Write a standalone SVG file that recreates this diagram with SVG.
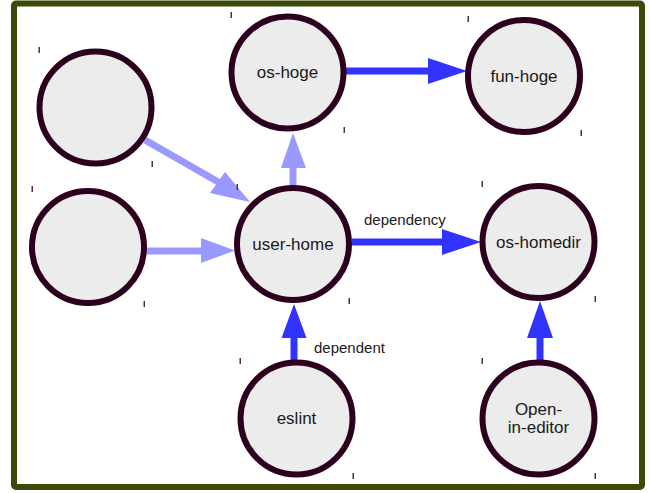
<svg xmlns="http://www.w3.org/2000/svg" width="650" height="493" viewBox="0 0 650 493">
<style>
.node circle{fill:#ececec;stroke:#2d0020;stroke-width:6}
.node text{font-family:"Liberation Sans",Arial,sans-serif;font-size:17px;fill:#1a1a1a;text-anchor:middle}
.tick{fill:#5a2a4a}
.dark{stroke:#3333ff;stroke-width:7;fill:none}
.darkh{fill:#3333ff}
.light{stroke:#9999ff;stroke-width:7;fill:none}
.lighth{fill:#9999ff}
.elabel{font-family:"Liberation Sans",Arial,sans-serif;font-size:15px;fill:#1a1a1a}
</style>
<rect x="0" y="0" width="650" height="493" fill="#ffffff"/>
<rect x="14" y="3.5" width="628" height="483.5" rx="2" fill="#ffffff" stroke="#3a4a08" stroke-width="6"/>
<g id="connectors">
  <line class="dark" x1="346" y1="71" x2="430" y2="71"/>
  <polygon class="darkh" points="428,58 467,71 428,84"/>
  <line class="dark" x1="352" y1="242" x2="444" y2="242"/>
  <polygon class="darkh" points="442,229 481,242 442,255"/>
  <text class="elabel" x="364" y="225">dependency</text>
  <line class="light" x1="293" y1="185" x2="293" y2="165"/>
  <polygon class="lighth" points="281,168 293,133 306,168"/>
  <line class="light" x1="145" y1="140" x2="220" y2="183"/>
  <polygon class="lighth" points="210,193 250,202 225,172"/>
  <line class="light" x1="147" y1="251" x2="204" y2="251"/>
  <polygon class="lighth" points="201,238 235,250.5 201,263"/>
  <line class="dark" x1="294" y1="360" x2="294" y2="335"/>
  <polygon class="darkh" points="281.5,338 294,304 306.5,338"/>
  <text class="elabel" x="314" y="353">dependent</text>
  <line class="dark" x1="540" y1="360" x2="540" y2="335"/>
  <polygon class="darkh" points="527,338 540,301 553,338"/>
</g>
<g id="node-left-top" class="node">
  <circle cx="95.5" cy="107.5" r="56"/>
  <rect class="tick" x="38.5" y="47" width="1.5" height="6"/>
  <rect class="tick" x="151.5" y="161" width="1.5" height="6"/>
</g>
<g id="node-left-bottom" class="node">
  <circle cx="88" cy="247" r="56"/>
  <rect class="tick" x="31.5" y="186" width="1.5" height="6"/>
  <rect class="tick" x="143.5" y="301" width="1.5" height="6"/>
</g>
<g id="node-os-hoge" class="node">
  <circle cx="287.5" cy="72.5" r="56"/>
  <text x="287.5" y="78">os-hoge</text>
  <rect class="tick" x="230.5" y="12" width="1.5" height="6"/>
  <rect class="tick" x="343.5" y="127" width="1.5" height="6"/>
</g>
<g id="node-fun-hoge" class="node">
  <circle cx="524" cy="76" r="56"/>
  <text x="524" y="82">fun-hoge</text>
  <rect class="tick" x="467.5" y="16" width="1.5" height="6"/>
  <rect class="tick" x="580.5" y="130" width="1.5" height="6"/>
</g>
<g id="node-user-home" class="node">
  <circle cx="293" cy="244" r="56"/>
  <text x="293" y="249.5">user-home</text>
  <rect class="tick" x="236.5" y="184" width="1.5" height="6"/>
  <rect class="tick" x="348.5" y="298" width="1.5" height="6"/>
</g>
<g id="node-os-homedir" class="node">
  <circle cx="538.5" cy="242" r="56"/>
  <text x="538.5" y="248">os-homedir</text>
  <rect class="tick" x="481.5" y="181" width="1.5" height="6"/>
  <rect class="tick" x="594.5" y="296" width="1.5" height="6"/>
</g>
<g id="node-eslint" class="node">
  <circle cx="296.5" cy="418.5" r="56"/>
  <text x="296.5" y="424">eslint</text>
  <rect class="tick" x="239.5" y="358" width="1.5" height="6"/>
  <rect class="tick" x="352.5" y="473" width="1.5" height="6"/>
</g>
<g id="node-open-in-editor" class="node">
  <circle cx="538.5" cy="418.5" r="56"/>
  <text x="538.5" y="415">Open-</text>
  <text x="538.5" y="433">in-editor</text>
  <rect class="tick" x="481.5" y="358" width="1.5" height="6"/>
  <rect class="tick" x="594.5" y="473" width="1.5" height="6"/>
</g>
</svg>
